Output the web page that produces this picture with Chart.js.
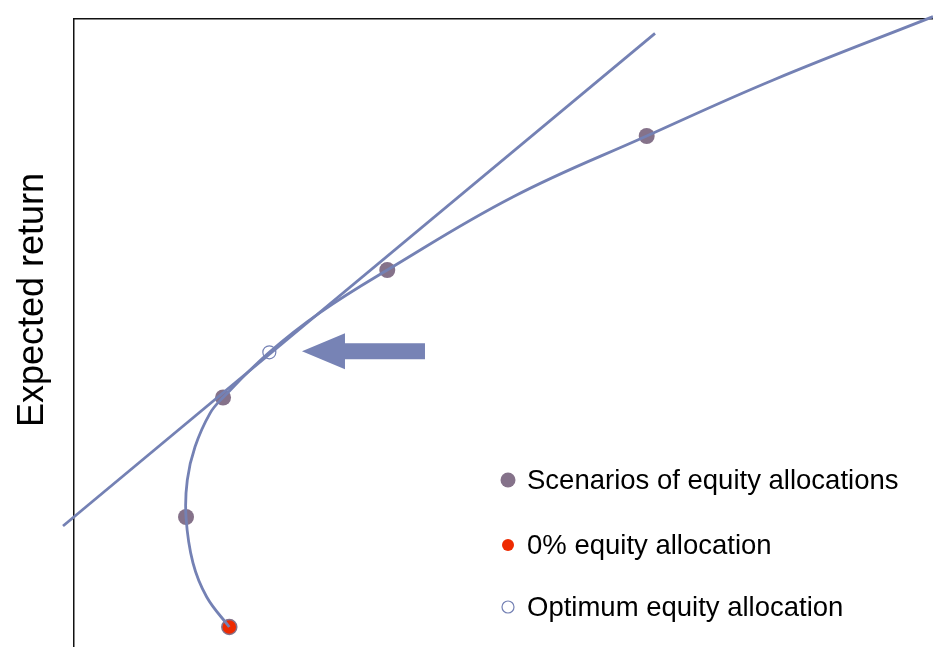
<!DOCTYPE html>
<html>
<head>
<meta charset="utf-8">
<script src="https://cdn.jsdelivr.net/npm/chart.js@4.4.1/dist/chart.umd.min.js"></script>
<style>
  html, body { margin: 0; padding: 0; background: #ffffff; overflow: hidden; }
  canvas { display: block; }
</style>
</head>
<body>
<canvas id="chart" width="933" height="647" style="width:933px;height:647px"></canvas>
<script>
// Efficient frontier: risk (x) against expected return (y), arbitrary units
const frontierRisk   = [18.08, 15.45, 13.85, 13.04, 13.19, 14.09, 15.83, 17.35, 22.70, 28.64, 36.47, 51.14, 66.67, 81.41, 100.0];
const frontierReturn = [ 3.18,  7.96, 13.38, 20.70, 26.59, 31.89, 37.21, 39.73, 46.89, 53.26, 60.03, 71.70, 81.37, 90.29, 100.37];

// Portfolio scenarios placed on the frontier
const scenarioRisk   = [13.04, 17.35, 36.47, 66.67];
const scenarioReturn = [20.70, 39.73, 60.03, 81.37];

// All-bond portfolio
const zeroEquityRisk   = [18.08];
const zeroEquityReturn = [3.18];

// Tangency portfolio and the tangent line through it
const optimumRisk   = [22.74];
const optimumReturn = [46.93];
const tangentRisk   = [-1.28, 67.64];
const tangentReturn = [19.27, 97.72];

// Arrow pointing at the tangency portfolio (tip and tail on the risk axis)
const arrowRisk = [26.54, 40.86];

const legendLabels = ['Scenarios of equity allocations', '0% equity allocation', 'Optimum equity allocation'];
const axisTitle = 'Expected return';

const LINE = '#7481b4';
const DOT = '#85728a';
const RED = '#ee2a00';

const pts = (xs, ys) => xs.map((x, i) => ({ x: x, y: ys[i] }));

// Legend drawn inside the plot, bottom right
const innerLegend = {
  id: 'innerLegend',
  afterDraw(chart) {
    const ctx = chart.ctx;
    const ca = chart.chartArea;
    const markerX = ca.left + 434;
    const textX = ca.left + 453;
    const rows = [480, 545, 607];
    const markers = [
      { r: 7.5, fill: DOT, stroke: DOT, w: 0 },
      { r: 6, fill: RED, stroke: RED, w: 0 },
      { r: 6, fill: '#ffffff', stroke: LINE, w: 1.2 }
    ];
    ctx.save();
    ctx.font = '27.5px "Liberation Sans", Arial, sans-serif';
    ctx.textBaseline = 'middle';
    ctx.textAlign = 'left';
    legendLabels.forEach((label, i) => {
      const m = markers[i];
      ctx.beginPath();
      ctx.arc(markerX, rows[i], m.r, 0, Math.PI * 2);
      ctx.fillStyle = m.fill;
      ctx.fill();
      if (m.w) { ctx.lineWidth = m.w; ctx.strokeStyle = m.stroke; ctx.stroke(); }
      ctx.fillStyle = '#000000';
      ctx.fillText(label, textX, rows[i] + 1);
    });
    ctx.restore();
  }
};

// Block arrow aimed at the optimum point
const pointerArrow = {
  id: 'pointerArrow',
  afterDatasetsDraw(chart) {
    const xs = chart.scales.x, ys = chart.scales.y;
    const tip = xs.getPixelForValue(arrowRisk[0]);
    const tail = xs.getPixelForValue(arrowRisk[1]);
    const cy = ys.getPixelForValue(optimumReturn[0]) - 1;
    const headLen = 43, headHalf = 18, shaftHalf = 8;
    const ctx = chart.ctx;
    ctx.save();
    ctx.fillStyle = '#7783b5';
    ctx.beginPath();
    ctx.moveTo(tip, cy);
    ctx.lineTo(tip + headLen, cy - headHalf);
    ctx.lineTo(tip + headLen, cy - shaftHalf);
    ctx.lineTo(tail, cy - shaftHalf);
    ctx.lineTo(tail, cy + shaftHalf);
    ctx.lineTo(tip + headLen, cy + shaftHalf);
    ctx.lineTo(tip + headLen, cy + headHalf);
    ctx.closePath();
    ctx.fill();
    ctx.restore();
  }
};

// Vertical axis title
const sideTitle = {
  id: 'sideTitle',
  afterDraw(chart) {
    const ctx = chart.ctx;
    ctx.save();
    ctx.translate(43, 300);
    ctx.rotate(-Math.PI / 2);
    ctx.font = '36px "Liberation Sans", Arial, sans-serif';
    ctx.fillStyle = '#000000';
    ctx.textAlign = 'center';
    ctx.textBaseline = 'alphabetic';
    ctx.fillText(axisTitle, 0, 0);
    ctx.restore();
  }
};

new Chart(document.getElementById('chart'), {
  type: 'scatter',
  data: {
    datasets: [
      {
        label: 'Tangent',
        data: pts(tangentRisk, tangentReturn),
        showLine: true,
        borderColor: LINE,
        borderWidth: 2.8,
        pointRadius: 0,
        clip: false
      },
      {
        label: 'Frontier',
        data: pts(frontierRisk, frontierReturn),
        showLine: true,
        borderColor: LINE,
        borderWidth: 2.8,
        tension: 0.4,
        pointRadius: 0,
        clip: false
      },
      {
        label: legendLabels[0],
        data: pts(scenarioRisk, scenarioReturn),
        backgroundColor: DOT,
        borderColor: DOT,
        pointRadius: 8,
        borderWidth: 0
      },
      {
        label: legendLabels[1],
        data: pts(zeroEquityRisk, zeroEquityReturn),
        backgroundColor: RED,
        borderColor: DOT,
        pointRadius: 7.5,
        borderWidth: 1.5,
        clip: false
      },
      {
        label: legendLabels[2],
        data: pts(optimumRisk, optimumReturn),
        backgroundColor: '#ffffff',
        borderColor: LINE,
        pointRadius: 6.5,
        borderWidth: 1.2
      }
    ]
  },
  options: {
    responsive: false,
    animation: false,
    devicePixelRatio: 1,
    layout: { padding: 0, autoPadding: false },
    plugins: {
      legend: { display: false },
      tooltip: { enabled: false }
    },
    scales: {
      x: {
        type: 'linear',
        position: 'top',
        min: 0,
        max: 100,
        ticks: { display: false },
        grid: { display: false, drawTicks: false },
        border: { display: true, color: '#111111', width: 1.5 },
        afterFit(scale) { scale.height = 19; }
      },
      y: {
        type: 'linear',
        position: 'left',
        min: 0,
        max: 100,
        ticks: { display: false },
        grid: { display: false, drawTicks: false },
        border: { display: true, color: '#111111', width: 1.5 },
        afterFit(scale) { scale.width = 74; }
      }
    }
  },
  plugins: [pointerArrow, innerLegend, sideTitle]
});
</script>
</body>
</html>
